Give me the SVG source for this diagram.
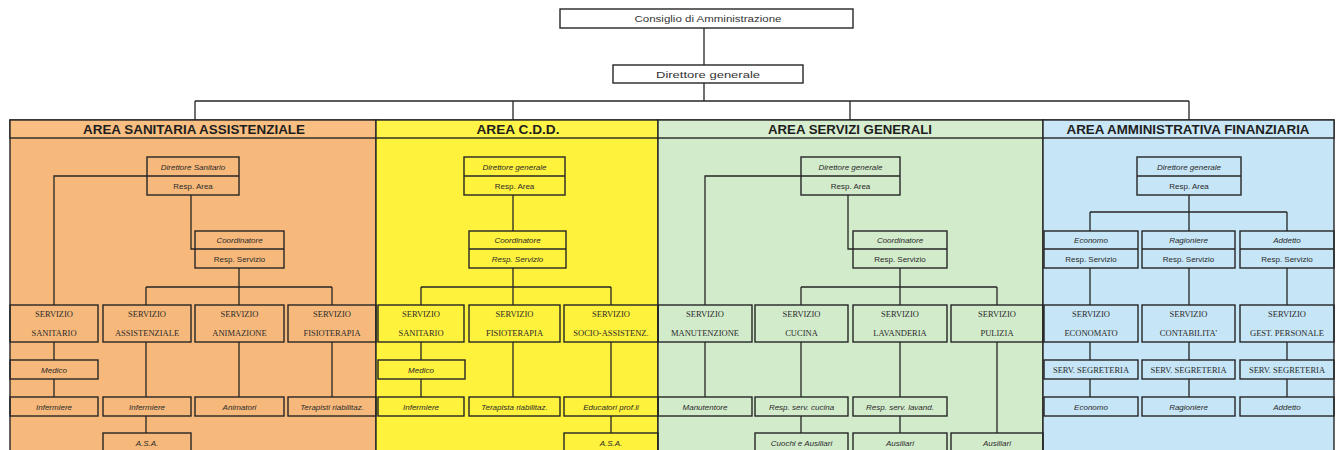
<svg xmlns="http://www.w3.org/2000/svg" width="1341" height="450" viewBox="0 0 1341 450">
<style>
.bx{fill:none;stroke:#262626;stroke-width:1.4}
.wb{fill:#ffffff;stroke:#262626;stroke-width:1.4}
.ln{fill:none;stroke:#262626;stroke-width:1.3}
.hd{font-family:"Liberation Sans",Arial,sans-serif;font-weight:bold;font-size:12px;fill:#1e1e1e;text-anchor:middle}
.tp{font-family:"Liberation Sans",Arial,sans-serif;font-size:9.5px;fill:#333;text-anchor:middle}
.it{font-family:"Liberation Sans",Arial,sans-serif;font-style:italic;font-size:8px;fill:#2a2a2a;text-anchor:middle}
.rg{font-family:"Liberation Sans",Arial,sans-serif;font-size:8px;fill:#2a2a2a;text-anchor:middle}
.sv{font-family:"Liberation Serif","Times New Roman",serif;font-size:8.5px;fill:#2a2a2a;text-anchor:middle}
</style>
<rect x="0" y="0" width="1341" height="450" fill="#ffffff"/>
<g id="areas">
<rect x="10" y="120" width="366" height="340" fill="#f7b97b" stroke="#262626" stroke-width="1.4"/>
<rect x="376" y="120" width="282" height="340" fill="#fff23c" stroke="#262626" stroke-width="1.4"/>
<rect x="658" y="120" width="385" height="340" fill="#d2ebcb" stroke="#262626" stroke-width="1.4"/>
<rect x="1043" y="120" width="291" height="340" fill="#c6e5f6" stroke="#262626" stroke-width="1.4"/>
<rect x="10" y="120" width="366" height="18" fill="#f9bf82" stroke="#262626" stroke-width="1.4"/>
<rect x="376" y="120" width="282" height="18" fill="#fff447" stroke="#262626" stroke-width="1.4"/>
<rect x="658" y="120" width="385" height="18" fill="#d6edd0" stroke="#262626" stroke-width="1.4"/>
<rect x="1043" y="120" width="291" height="18" fill="#cae7f7" stroke="#262626" stroke-width="1.4"/>
<text class="hd" x="194" y="133.5" textLength="222" lengthAdjust="spacingAndGlyphs">AREA SANITARIA ASSISTENZIALE</text>
<text class="hd" x="518" y="133.5" textLength="83" lengthAdjust="spacingAndGlyphs">AREA C.D.D.</text>
<text class="hd" x="850" y="133.5" textLength="164" lengthAdjust="spacingAndGlyphs">AREA SERVIZI GENERALI</text>
<text class="hd" x="1188" y="133.5" textLength="243" lengthAdjust="spacingAndGlyphs">AREA AMMINISTRATIVA FINANZIARIA</text>
</g>
<g id="connectors">
<path class="ln" d="M704 28V65M704 83V101M195 101H1189M195 101V120M513 101V120M850 101V120M1189 101V120"/>
<path class="ln" d="M147 176H54V305M191 195V249H195M239 268V305M146 287H332M146 287V305M332 287V305M54 342V360M54 379V397M146 342V397M146 416V433M239 342V397M332 342V397"/>
<path class="ln" d="M513 195V231M513 268V305M421 287H611M421 287V305M611 287V305M421 342V360M421 379V397M513 342V397M611 342V397M611 416V433"/>
<path class="ln" d="M801 176H705V305M705 342V397M848 195V249H853M900 268V305M801 287H997M801 287V305M997 287V305M801 342V397M801 416V433M900 342V397M900 416V433M997 342V433"/>
<path class="ln" d="M1189 195V212M1090 212H1287M1090 212V231M1189 212V231M1287 212V231M1090 268V305M1189 268V305M1287 268V305M1090 342V360M1189 342V360M1287 342V360M1090 379V397M1189 379V397M1287 379V397"/>
</g>
<g id="consiglio"><rect class="wb" x="560" y="9" width="293" height="19"/><text class="tp" x="708" y="21.5" textLength="147" lengthAdjust="spacingAndGlyphs">Consiglio di Amministrazione</text></g>
<g id="direttore-generale"><rect class="wb" x="613" y="65" width="190" height="18"/><text class="tp" x="708" y="77.5" textLength="104" lengthAdjust="spacingAndGlyphs">Direttore generale</text></g>

<g id="a1-direttore"><rect class="bx" x="147" y="157" width="92" height="38"/><path class="ln" d="M147 176H239"/><text class="it" x="193" y="169.5">Direttore Sanitario</text><text class="rg" x="193" y="188.5">Resp. Area</text></g>
<g id="a1-coord"><rect class="bx" x="195" y="231" width="89" height="37"/><path class="ln" d="M195 249H284"/><text class="it" x="239.5" y="243">Coordinatore</text><text class="rg" x="239.5" y="261.5">Resp. Servizio</text></g>
<g id="a1-s1"><rect class="bx" x="10" y="305" width="88" height="37"/><text class="sv" x="54" y="316.5">SERVIZIO</text><text class="sv" x="54" y="335.5">SANITARIO</text></g>
<g id="a1-s2"><rect class="bx" x="103" y="305" width="88" height="37"/><text class="sv" x="147" y="316.5">SERVIZIO</text><text class="sv" x="147" y="335.5">ASSISTENZIALE</text></g>
<g id="a1-s3"><rect class="bx" x="195" y="305" width="89" height="37"/><text class="sv" x="239.5" y="316.5">SERVIZIO</text><text class="sv" x="239.5" y="335.5">ANIMAZIONE</text></g>
<g id="a1-s4"><rect class="bx" x="288" y="305" width="88" height="37"/><text class="sv" x="332" y="316.5">SERVIZIO</text><text class="sv" x="332" y="335.5">FISIOTERAPIA</text></g>
<g id="a1-medico"><rect class="bx" x="10" y="360" width="88" height="19"/><text class="it" x="54" y="372.5">Medico</text></g>
<g id="a1-inf1"><rect class="bx" x="10" y="397" width="88" height="19"/><text class="it" x="54" y="409.5">Infermiere</text></g>
<g id="a1-inf2"><rect class="bx" x="103" y="397" width="88" height="19"/><text class="it" x="147" y="409.5">Infermiere</text></g>
<g id="a1-anim"><rect class="bx" x="195" y="397" width="89" height="19"/><text class="it" x="239.5" y="409.5">Animatori</text></g>
<g id="a1-ter"><rect class="bx" x="288" y="397" width="88" height="19"/><text class="it" x="332" y="409.5">Terapisti riabilitaz.</text></g>
<g id="a1-asa"><rect class="bx" x="103" y="433" width="88" height="27"/><text class="it" x="147" y="445.5">A.S.A.</text></g>

<g id="a2-direttore"><rect class="bx" x="464" y="157" width="101" height="38"/><path class="ln" d="M464 176H565"/><text class="it" x="514.5" y="169.5">Direttore generale</text><text class="rg" x="514.5" y="188.5">Resp. Area</text></g>
<g id="a2-coord"><rect class="bx" x="469" y="231" width="97" height="37"/><path class="ln" d="M469 249H566"/><text class="it" x="517.5" y="243">Coordinatore</text><text class="it" x="517.5" y="261.5">Resp. Servizio</text></g>
<g id="a2-s1"><rect class="bx" x="378" y="305" width="86" height="37"/><text class="sv" x="421" y="316.5">SERVIZIO</text><text class="sv" x="421" y="335.5">SANITARIO</text></g>
<g id="a2-s2"><rect class="bx" x="469" y="305" width="91" height="37"/><text class="sv" x="514.5" y="316.5">SERVIZIO</text><text class="sv" x="514.5" y="335.5">FISIOTERAPIA</text></g>
<g id="a2-s3"><rect class="bx" x="564" y="305" width="94" height="37"/><text class="sv" x="611" y="316.5">SERVIZIO</text><text class="sv" x="611" y="335.5">SOCIO-ASSISTENZ.</text></g>
<g id="a2-medico"><rect class="bx" x="378" y="360" width="87" height="19"/><text class="it" x="421" y="372.5">Medico</text></g>
<g id="a2-inf"><rect class="bx" x="378" y="397" width="86" height="19"/><text class="it" x="421" y="409.5">Infermiere</text></g>
<g id="a2-ter"><rect class="bx" x="469" y="397" width="91" height="19"/><text class="it" x="514.5" y="409.5">Terapista riabilitaz.</text></g>
<g id="a2-edu"><rect class="bx" x="564" y="397" width="94" height="19"/><text class="it" x="611" y="409.5">Educatori prof.li</text></g>
<g id="a2-asa"><rect class="bx" x="564" y="433" width="94" height="27"/><text class="it" x="611" y="445.5">A.S.A.</text></g>

<g id="a3-direttore"><rect class="bx" x="801" y="157" width="99" height="38"/><path class="ln" d="M801 176H900"/><text class="it" x="850.5" y="169.5">Direttore generale</text><text class="rg" x="850.5" y="188.5">Resp. Area</text></g>
<g id="a3-coord"><rect class="bx" x="853" y="231" width="94" height="37"/><path class="ln" d="M853 249H947"/><text class="it" x="900" y="243">Coordinatore</text><text class="rg" x="900" y="261.5">Resp. Servizio</text></g>
<g id="a3-s1"><rect class="bx" x="658" y="305" width="94" height="37"/><text class="sv" x="705" y="316.5">SERVIZIO</text><text class="sv" x="705" y="335.5">MANUTENZIONE</text></g>
<g id="a3-s2"><rect class="bx" x="755" y="305" width="93" height="37"/><text class="sv" x="801.5" y="316.5">SERVIZIO</text><text class="sv" x="801.5" y="335.5">CUCINA</text></g>
<g id="a3-s3"><rect class="bx" x="853" y="305" width="94" height="37"/><text class="sv" x="900" y="316.5">SERVIZIO</text><text class="sv" x="900" y="335.5">LAVANDERIA</text></g>
<g id="a3-s4"><rect class="bx" x="951" y="305" width="92" height="37"/><text class="sv" x="997" y="316.5">SERVIZIO</text><text class="sv" x="997" y="335.5">PULIZIA</text></g>
<g id="a3-man"><rect class="bx" x="658" y="397" width="94" height="19"/><text class="it" x="705" y="409.5">Manutentore</text></g>
<g id="a3-rcuc"><rect class="bx" x="755" y="397" width="93" height="19"/><text class="it" x="801.5" y="409.5">Resp. serv. cucina</text></g>
<g id="a3-rlav"><rect class="bx" x="853" y="397" width="94" height="19"/><text class="it" x="900" y="409.5">Resp. serv. lavand.</text></g>
<g id="a3-cuochi"><rect class="bx" x="755" y="433" width="93" height="27"/><text class="it" x="801.5" y="445.5">Cuochi e Ausiliari</text></g>
<g id="a3-aus1"><rect class="bx" x="853" y="433" width="94" height="27"/><text class="it" x="900" y="445.5">Ausiliari</text></g>
<g id="a3-aus2"><rect class="bx" x="951" y="433" width="92" height="27"/><text class="it" x="997" y="445.5">Ausiliari</text></g>

<g id="a4-direttore"><rect class="bx" x="1137" y="157" width="104" height="38"/><path class="ln" d="M1137 176H1241"/><text class="it" x="1189" y="169.5">Direttore generale</text><text class="rg" x="1189" y="188.5">Resp. Area</text></g>
<g id="a4-economo"><rect class="bx" x="1044" y="231" width="94" height="37"/><path class="ln" d="M1044 249H1138"/><text class="it" x="1091" y="243">Economo</text><text class="rg" x="1091" y="261.5">Resp. Servizio</text></g>
<g id="a4-ragioniere"><rect class="bx" x="1142" y="231" width="93" height="37"/><path class="ln" d="M1142 249H1235"/><text class="it" x="1188.5" y="243">Ragioniere</text><text class="rg" x="1188.5" y="261.5">Resp. Servizio</text></g>
<g id="a4-addetto"><rect class="bx" x="1240" y="231" width="94" height="37"/><path class="ln" d="M1240 249H1334"/><text class="it" x="1287" y="243">Addetto</text><text class="rg" x="1287" y="261.5">Resp. Servizio</text></g>
<g id="a4-s1"><rect class="bx" x="1044" y="305" width="94" height="37"/><text class="sv" x="1091" y="316.5">SERVIZIO</text><text class="sv" x="1091" y="335.5">ECONOMATO</text></g>
<g id="a4-s2"><rect class="bx" x="1142" y="305" width="93" height="37"/><text class="sv" x="1188.5" y="316.5">SERVIZIO</text><text class="sv" x="1188.5" y="335.5">CONTABILITA'</text></g>
<g id="a4-s3"><rect class="bx" x="1240" y="305" width="94" height="37"/><text class="sv" x="1287" y="316.5">SERVIZIO</text><text class="sv" x="1287" y="335.5">GEST. PERSONALE</text></g>
<g id="a4-seg1"><rect class="bx" x="1044" y="360" width="94" height="19"/><text class="sv" x="1091" y="372.5">SERV. SEGRETERIA</text></g>
<g id="a4-seg2"><rect class="bx" x="1142" y="360" width="93" height="19"/><text class="sv" x="1188.5" y="372.5">SERV. SEGRETERIA</text></g>
<g id="a4-seg3"><rect class="bx" x="1240" y="360" width="94" height="19"/><text class="sv" x="1287" y="372.5">SERV. SEGRETERIA</text></g>
<g id="a4-eco"><rect class="bx" x="1044" y="397" width="94" height="19"/><text class="it" x="1091" y="409.5">Economo</text></g>
<g id="a4-rag"><rect class="bx" x="1142" y="397" width="93" height="19"/><text class="it" x="1188.5" y="409.5">Ragioniere</text></g>
<g id="a4-add"><rect class="bx" x="1240" y="397" width="94" height="19"/><text class="it" x="1287" y="409.5">Addetto</text></g>
</svg>
